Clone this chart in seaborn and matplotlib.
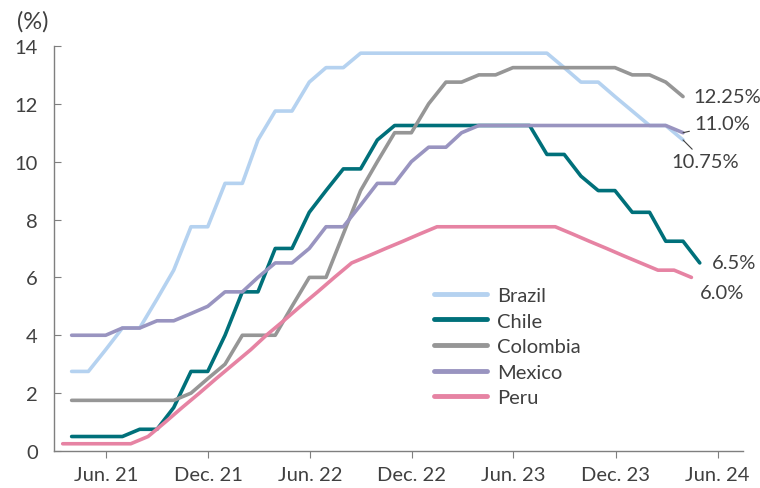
import pandas as pd
import numpy as np
import seaborn as sns
import matplotlib.pyplot as plt
import matplotlib.dates as mdates

sns.set_style('ticks')
plt.rcParams['font.family'] = ['Lato', 'DejaVu Sans']
plt.rcParams['font.size'] = 14

# monthly policy rates, Mar 2021 onwards (%)
months = pd.period_range('2021-03', '2024-04', freq='M')
countries = ['Brazil', 'Chile', 'Colombia', 'Mexico', 'Peru']

brazil = [2.75, 2.75, 3.5, 4.25, 4.25, 5.25, 6.25, 7.75, 7.75, 9.25, 9.25, 10.75,
          11.75, 11.75, 12.75, 13.25, 13.25, 13.75, 13.75, 13.75, 13.75, 13.75, 13.75,
          13.75, 13.75, 13.75, 13.75, 13.75, 13.75, 13.25, 12.75, 12.75, 12.25, 11.75,
          11.25, 11.25, 10.75]
chile = [0.5, 0.5, 0.5, 0.5, 0.75, 0.75, 1.5, 2.75, 2.75, 4.0, 5.5, 5.5,
         7.0, 7.0, 8.25, 9.0, 9.75, 9.75, 10.75, 11.25, 11.25, 11.25, 11.25,
         11.25, 11.25, 11.25, 11.25, 11.25, 10.25, 10.25, 9.5, 9.0, 9.0, 8.25,
         8.25, 7.25, 7.25, 6.5]
colombia = [1.75, 1.75, 1.75, 1.75, 1.75, 1.75, 1.75, 2.0, 2.5, 3.0, 4.0, 4.0,
            4.0, 5.0, 6.0, 6.0, 7.5, 9.0, 10.0, 11.0, 11.0, 12.0, 12.75,
            12.75, 13.0, 13.0, 13.25, 13.25, 13.25, 13.25, 13.25, 13.25, 13.25, 13.0,
            13.0, 12.75, 12.25]
mexico = [4.0, 4.0, 4.0, 4.25, 4.25, 4.5, 4.5, 4.75, 5.0, 5.5, 5.5, 6.0,
          6.5, 6.5, 7.0, 7.75, 7.75, 8.5, 9.25, 9.25, 10.0, 10.5, 10.5,
          11.0, 11.25, 11.25, 11.25, 11.25, 11.25, 11.25, 11.25, 11.25, 11.25, 11.25,
          11.25, 11.25, 11.0]
peru = [0.25, 0.25, 0.25, 0.25, 0.25, 0.5, 1.0, 1.5, 2.0, 2.5, 3.0, 3.5,
        4.0, 4.5, 5.0, 5.5, 6.0, 6.5, 6.75, 7.0, 7.25, 7.5, 7.75,
        7.75, 7.75, 7.75, 7.75, 7.75, 7.75, 7.75, 7.5, 7.25, 7.0, 6.75,
        6.5, 6.25, 6.25, 6.0]
end_labels = ['10.75%', '6.5%', '12.25%', '11.0%', '6.0%']

colors = ['#B5D2F0', '#00707A', '#969696', '#9994C0', '#E683A3']

month_end = months.to_timestamp(how='end').normalize()
month_mid = months.to_timestamp() + pd.Timedelta(days=14)

frames = []
for name, vals in zip(countries, [brazil, chile, colombia, mexico, peru]):
    dates = month_mid if name == 'Peru' else month_end
    frames.append(pd.DataFrame({'date': dates[:len(vals)], 'rate': vals, 'country': name}))
df = pd.concat(frames, ignore_index=True)

fig = plt.figure(figsize=(7.6, 4.89), dpi=100)
ax = fig.add_axes([0.0715, 0.0757, 0.9065, 0.8283])

sns.lineplot(data=df, x='date', y='rate', hue='country', hue_order=countries,
             palette=colors, linewidth=2.6, ax=ax)

ax.set_ylim(0, 14)
ax.set_yticks(np.arange(0, 15, 2))
ax.set_xlim(pd.Timestamp('2021-02-28'), pd.Timestamp('2024-07-17'))
ticks = pd.date_range('2021-06-01', '2024-06-01', freq='6MS')
ax.set_xticks(ticks)
ax.set_xticklabels([t.strftime('%b. %y') for t in ticks])
ax.set_xlabel('')
ax.set_ylabel('')

sns.despine(ax=ax)
for s in ['left', 'bottom']:
    ax.spines[s].set_color('#7F7F7F')
    ax.spines[s].set_linewidth(1.0)
ax.tick_params(axis='y', direction='in', length=5, color='#7F7F7F', labelcolor='#404040',
               labelsize=14.5, pad=12)
ax.tick_params(axis='x', direction='out', length=5, color='#7F7F7F', labelcolor='#404040',
               labelsize=14.5, pad=6)

fig.text(0.022, 0.955, '(%)', ha='left', va='center', fontsize=17, color='#404040')

# end-of-series labels
offsets = {'Brazil': (-12, -22), 'Chile': (12, 0), 'Colombia': (10, 0),
           'Mexico': (11, 9), 'Peru': (8, -15)}
for name, lab in zip(countries, end_labels):
    last = df[df['country'] == name].iloc[-1]
    arrow = None
    if name in ('Brazil', 'Mexico'):
        arrow = dict(arrowstyle='-', color='#404040', lw=0.8, shrinkA=1, shrinkB=0)
    ax.annotate(lab, xy=(last['date'], last['rate']), xytext=offsets[name],
                textcoords='offset pixels', ha='left', va='center', fontsize=14.5,
                color='#404040', arrowprops=arrow)

leg = ax.legend(loc='upper left', bbox_to_anchor=(0.537, 0.43), frameon=False,
                borderpad=0, handlelength=2.6, handletextpad=0.5, labelspacing=0.42,
                fontsize=14.5)
for h in leg.get_lines():
    h.set_linewidth(3.5)
for t in leg.get_texts():
    t.set_color('#404040')

plt.savefig('out.png', dpi=100)
